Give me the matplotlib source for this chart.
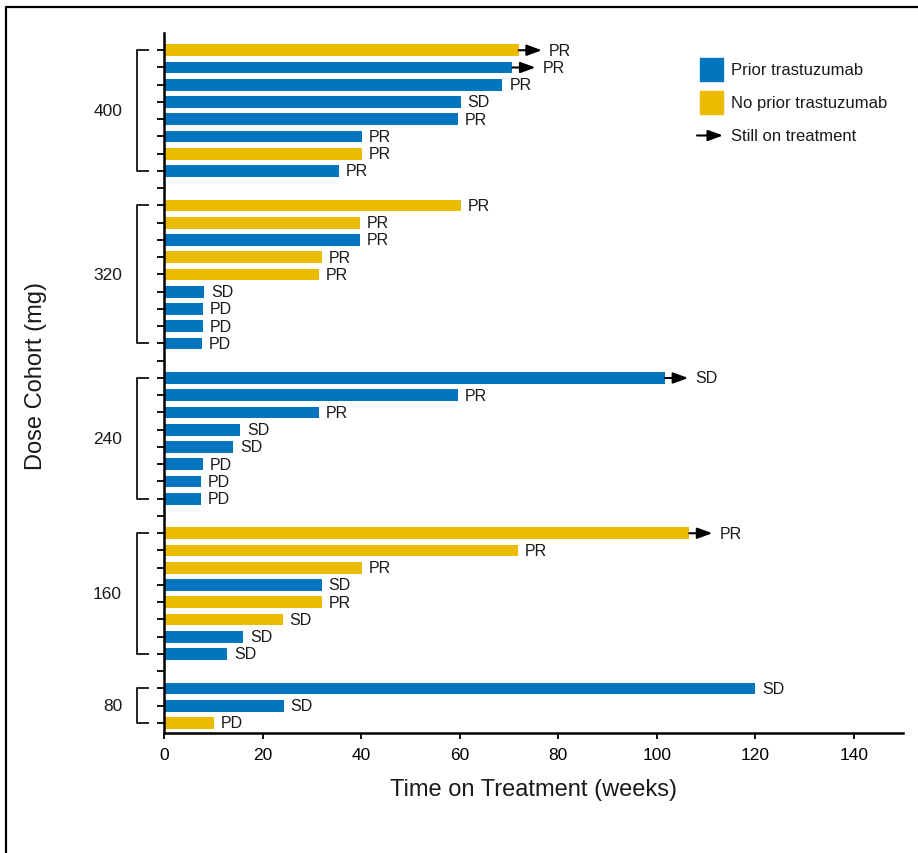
import matplotlib
matplotlib.use("Agg")
import matplotlib.pyplot as plt
from matplotlib import font_manager
from matplotlib.lines import Line2D
from matplotlib.patches import Rectangle, FancyArrowPatch
import matplotlib.transforms as mtransforms

# ---------------- data ----------------
cohorts = ["400", "320", "240", "160", "80"]
# weeks on treatment per patient (top to bottom inside each cohort)
weeks_400 = [72.0, 70.7, 68.7, 60.2, 59.6, 40.1, 40.1, 35.5]
weeks_320 = [60.2, 39.7, 39.7, 32.0, 31.4, 8.1, 7.9, 7.9, 7.7]
weeks_240 = [101.7, 59.6, 31.4, 15.4, 14.0, 7.9, 7.5, 7.5]
weeks_160 = [106.6, 71.9, 40.1, 32.0, 32.0, 24.1, 16.0, 12.8]
weeks_80 = [120.0, 24.3, 10.2]
# prior trastuzumab: 1 = yes (blue), 0 = no (yellow)
prior_400 = [0, 1, 1, 1, 1, 1, 0, 1]
prior_320 = [0, 0, 1, 0, 0, 1, 1, 1, 1]
prior_240 = [1, 1, 1, 1, 1, 1, 1, 1]
prior_160 = [0, 0, 0, 1, 0, 0, 1, 1]
prior_80 = [1, 1, 0]
# best response
resp_400 = ["PR", "PR", "PR", "SD", "PR", "PR", "PR", "PR"]
resp_320 = ["PR", "PR", "PR", "PR", "PR", "SD", "PD", "PD", "PD"]
resp_240 = ["SD", "PR", "PR", "SD", "SD", "PD", "PD", "PD"]
resp_160 = ["PR", "PR", "PR", "SD", "PR", "SD", "SD", "SD"]
resp_80 = ["SD", "SD", "PD"]
# still on treatment
ongoing_400 = [1, 1, 0, 0, 0, 0, 0, 0]
ongoing_320 = [0, 0, 0, 0, 0, 0, 0, 0, 0]
ongoing_240 = [1, 0, 0, 0, 0, 0, 0, 0]
ongoing_160 = [1, 0, 0, 0, 0, 0, 0, 0]
ongoing_80 = [0, 0, 0]

x_ticks = [0, 20, 40, 60, 80, 100, 120, 140]
x_label = "Time on Treatment (weeks)"
y_label = "Dose Cohort (mg)"
legend_labels = ["Prior trastuzumab", "No prior trastuzumab", "Still on treatment"]

weeks = [weeks_400, weeks_320, weeks_240, weeks_160, weeks_80]
prior = [prior_400, prior_320, prior_240, prior_160, prior_80]
resp = [resp_400, resp_320, resp_240, resp_160, resp_80]
ongoing = [ongoing_400, ongoing_320, ongoing_240, ongoing_160, ongoing_80]

# ---------------- style ----------------
BLUE = "#0176BE"
YELLOW = "#EBBB00"
names = {f.name for f in font_manager.fontManager.ttflist}
base_font = "Liberation Sans" if "Liberation Sans" in names else "DejaVu Sans"
label_font = "Liberation Sans Narrow" if "Liberation Sans Narrow" in names else base_font
plt.rcParams["font.family"] = [base_font, "DejaVu Sans"]
ARROW = "-|>,head_length=0.9,head_width=0.33"

W, H = 918, 854
fig = plt.figure(figsize=(W / 100, H / 100), dpi=100)
ax = fig.add_axes([164 / W, 1 - 734 / H, (903 - 164) / W, (734 - 34) / H])

# row positions: one empty row between cohorts
rows = []
pos = 0
for g in weeks:
    rows.append(list(range(pos, pos + len(g))))
    pos += len(g) + 1
last_row = pos - 2

arrow_len = 4.7
for gi in range(len(cohorts)):
    for r, v, p, s, o in zip(rows[gi], weeks[gi], prior[gi], resp[gi], ongoing[gi]):
        ax.barh(r, v, height=0.68, color=BLUE if p else YELLOW, zorder=2)
        end = v
        if o:
            ax.annotate("", xy=(v + arrow_len, r), xytext=(v, r),
                        arrowprops=dict(arrowstyle=ARROW, color="black", lw=1.5,
                                        shrinkA=0, shrinkB=0, mutation_scale=10))
            end = v + arrow_len
        ax.annotate(s, xy=(end, r), xytext=(5, 0), textcoords="offset points",
                    va="center", ha="left", fontsize=11.5, color="#1a1a1a")

ax.set_xlim(0, 150)
ax.set_ylim(last_row + 0.58, -1.0)
ax.set_xticks(x_ticks)
ax.set_xticklabels([str(t) for t in x_ticks], fontsize=12.5)
ax.set_yticks(range(last_row + 1))
ax.set_yticklabels([])
ax.tick_params(axis="y", length=5, width=1.3, direction="out")
ax.tick_params(axis="x", length=4, width=1.3, direction="out", pad=6)
for sp in ["top", "right"]:
    ax.spines[sp].set_visible(False)
for sp in ["left", "bottom"]:
    ax.spines[sp].set_linewidth(1.8)

# cohort brackets and labels
trans = mtransforms.blended_transform_factory(ax.transAxes, ax.transData)
xb = (137 - 164) / (903 - 164)
xa = (148 - 164) / (903 - 164)
xl = (122 - 164) / (903 - 164)
for gi, name in enumerate(cohorts):
    y0, y1 = rows[gi][0], rows[gi][-1]
    ax.add_line(Line2D([xa, xb, xb, xa], [y0, y0, y1, y1], transform=trans,
                       color="#222222", lw=1.4, clip_on=False))
    ax.text(xl, (y0 + y1) / 2, name, transform=trans, ha="right", va="center",
            fontsize=12.5, color="#1a1a1a")

# axis labels
fig.text(534 / W, 1 - 790 / H, x_label, ha="center", va="center",
         fontsize=17, family=label_font, color="#1a1a1a")
fig.text(36 / W, 1 - 376 / H, y_label, ha="center", va="center", rotation=90,
         fontsize=17, family=label_font, color="#1a1a1a")

# legend
sq = 23
for i, c in enumerate([BLUE, YELLOW]):
    top = 59 + 33 * i
    fig.patches.append(Rectangle((700 / W, 1 - (top + sq) / H), sq / W, sq / H,
                                 transform=fig.transFigure, color=c))
for i, lab in enumerate(legend_labels):
    fig.text(731 / W, 1 - (70.5 + 33 * i) / H, lab, ha="left", va="center",
             fontsize=12, color="#1a1a1a")
fig.add_artist(FancyArrowPatch(
    (697 / W, 1 - 136.5 / H), (723 / W, 1 - 136.5 / H), transform=fig.transFigure,
    arrowstyle=ARROW, color="black", lw=1.5, shrinkA=0, shrinkB=0, mutation_scale=10))

# outer frame (top and left)
fig.add_artist(Line2D([6 / W, 6 / W, 1], [0, 1 - 8 / H, 1 - 8 / H],
                      transform=fig.transFigure, color="black", lw=1.6))

fig.savefig("out.png", dpi=100)
